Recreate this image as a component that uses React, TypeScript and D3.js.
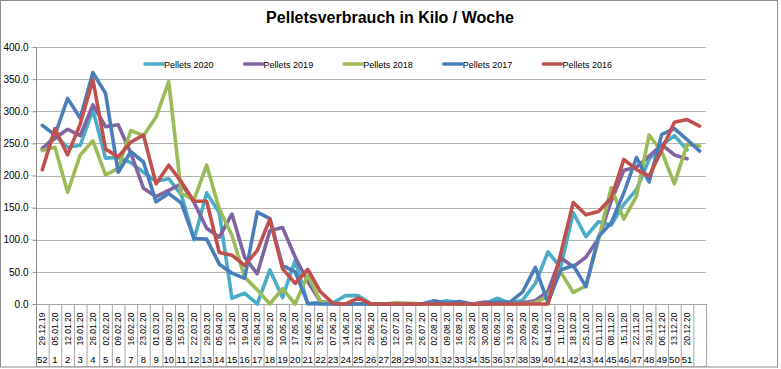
import React, { useEffect, useRef } from "react";
import * as d3 from "d3";

// x-Achse: Datum (Wochenanfang) und KW, letzte Spalte ohne Beschriftung
const dates = [
  "29.12.19", "05.01.20", "12.01.20", "19.01.20", "26.01.20", "02.02.20", "09.02.20", "16.02.20",
  "23.02.20", "01.03.20", "08.03.20", "15.03.20", "22.03.20", "29.03.20", "05.04.20", "12.04.20",
  "19.04.20", "26.04.20", "03.05.20", "10.05.20", "17.05.20", "24.05.20", "31.05.20", "07.06.20",
  "14.06.20", "21.06.20", "28.06.20", "05.07.20", "12.07.20", "19.07.20", "26.07.20", "02.08.20",
  "09.08.20", "16.08.20", "23.08.20", "30.08.20", "06.09.20", "13.09.20", "20.09.20", "27.09.20",
  "04.10.20", "11.10.20", "18.10.20", "25.10.20", "01.11.20", "08.11.20", "15.11.20", "22.11.20",
  "29.11.20", "06.12.20", "13.12.20", "20.12.20", "",
];
const weeks = [
  "52", "1", "2", "3", "4", "5", "6", "7", "8", "9", "10", "11", "12", "13", "14", "15", "16", "17",
  "18", "19", "20", "21", "22", "23", "24", "25", "26", "27", "28", "29", "30", "31", "32", "33", "34",
  "35", "36", "37", "38", "39", "40", "41", "42", "43", "44", "45", "46", "47", "48", "49", "50", "51", "",
];

const pellets2020 = [
  240, 262, 244, 247, 302, 227, 228, 220, 205, 191,
  195, 170, 100, 173, 142, 9, 17, 0, 53, 10,
  68, 0, 3, 2, 13, 13, 0, 0, 0, 0,
  0, 1, 5, 2, 0, 0, 9, 1, 6, 32,
  81, 57, 142, 105, 128, 123, 155, 178, 225, 248,
  262, 240, null,
];
const pellets2019 = [
  242, 258, 272, 262, 310, 276, 279, 235, 180, 167,
  177, 187, 158, 118, 104, 140, 73, 47, 114, 119,
  73, 35, 4, 0, 0, 0, 0, 0, 0, 0,
  0, 0, 0, 0, 0, 3, 1, 0, 2, 5,
  20, 72, 58, 73, 102, 160, 208, 213, 230, 248,
  232, 226, null,
];
const pellets2018 = [
  239, 244, 174, 232, 254, 201, 211, 270, 262, 291,
  346, 172, 162, 216, 148, 107, 42, 22, 0, 24,
  0, 45, 4, 0, 0, 0, 0, 0, 2, 1,
  0, 0, 0, 0, 0, 0, 0, 0, 0, 2,
  12, 50, 18, 28, 100, 181, 132, 168, 263, 237,
  187, 248, 246,
];
const pellets2017 = [
  278, 263, 320, 289, 360, 328, 205, 237, 221, 159,
  172, 157, 102, 101, 62, 48, 40, 143, 133, 60,
  50, 1, 0, 0, 0, 0, 0, 0, 0, 0,
  0, 5, 1, 4, 0, 0, 3, 3, 19, 57,
  2, 53, 60, 27, 105, 126, 173, 228, 190, 264,
  273, 256, 238,
];
const pellets2016 = [
  209, 273, 232, 280, 349, 241, 229, 252, 263, 187,
  216, 190, 160, 160, 80, 76, 60, 83, 132, 55,
  32, 54, 19, 1, 0, 9, 0, 0, 0, 0,
  0, 0, 0, 0, 0, 0, 0, 0, 0, 0,
  0, 78, 158, 139, 144, 165, 225, 209, 199, 240,
  283, 287, 277,
];

const seriesNames = ["Pellets 2020", "Pellets 2019", "Pellets 2018", "Pellets 2017", "Pellets 2016"];
const seriesValues = [pellets2020, pellets2019, pellets2018, pellets2017, pellets2016];
const seriesColors = ["#4BACC6", "#8064A2", "#9BBB59", "#4A7EBB", "#C0504D"];
const yTicks = [0, 50, 100, 150, 200, 250, 300, 350, 400];

const W = 781;
const H = 369;
const FONT = "'Liberation Sans', Arial, sans-serif";

export default function App() {
  const ref = useRef<SVGSVGElement>(null);

  useEffect(() => {
    const svg = d3.select(ref.current);
    svg.selectAll("*").remove();

    const left = 36, right = 706, top = 47, bottom = 304, tableBottom = 367;

    const x = d3.scaleBand<number>().domain(d3.range(dates.length)).range([left, right]).padding(0);
    const y = d3.scaleLinear().domain([0, 400]).range([bottom, top]);

    // Rahmen
    svg.append("rect")
      .attr("x", 0.5).attr("y", 0.5)
      .attr("width", 777).attr("height", 366.5)
      .attr("fill", "#fff").attr("stroke", "#8c8c8c");

    // Titel
    svg.append("text")
      .attr("x", 390).attr("y", 23)
      .attr("text-anchor", "middle")
      .style("font-family", FONT).style("font-weight", "bold").style("font-size", "16px")
      .text("Pelletsverbrauch in Kilo / Woche");

    // Gitterlinien
    svg.append("g").selectAll("line").data(yTicks.filter(t => t > 0)).enter().append("line")
      .attr("x1", left).attr("x2", right)
      .attr("y1", d => Math.round(y(d)) + 0.5).attr("y2", d => Math.round(y(d)) + 0.5)
      .attr("stroke", "#b3b3b3");

    // y-Achse
    const yAxis = svg.append("g").attr("transform", `translate(${left + 0.5},0)`)
      .call(d3.axisLeft(y).tickValues(yTicks).tickFormat(d3.format(".1f")).tickSize(4).tickPadding(4));
    yAxis.select(".domain").remove();
    yAxis.selectAll("line").attr("stroke", "#8c8c8c");
    yAxis.selectAll("text").style("font-family", FONT).style("font-size", "10px").attr("fill", "#000");
    svg.append("line")
      .attr("x1", left + 0.5).attr("x2", left + 0.5).attr("y1", top).attr("y2", tableBottom)
      .attr("stroke", "#8c8c8c");

    // Kategorie-Tabelle
    const table = svg.append("g");
    table.append("line")
      .attr("x1", left).attr("x2", right).attr("y1", bottom + 0.5).attr("y2", bottom + 0.5)
      .attr("stroke", "#a6a6a6");
    table.append("line")
      .attr("x1", left).attr("x2", right).attr("y1", tableBottom - 0.5).attr("y2", tableBottom - 0.5)
      .attr("stroke", "#a6a6a6");
    table.selectAll(".sep").data(d3.range(1, dates.length + 1)).enter().append("line")
      .attr("x1", i => (x(i) ?? right) + 0.5).attr("x2", i => (x(i) ?? right) + 0.5)
      .attr("y1", bottom).attr("y2", tableBottom)
      .attr("stroke", "#a6a6a6");

    const bw = x.bandwidth();
    table.selectAll(".date").data(dates).enter().append("text")
      .attr("transform", (d, i) => `translate(${(x(i) ?? 0) + bw / 2 + 3},329) rotate(-90)`)
      .attr("text-anchor", "middle")
      .style("font-family", FONT).style("font-size", "8.5px")
      .text(d => d);
    table.selectAll(".week").data(weeks).enter().append("text")
      .attr("x", (d, i) => (x(i) ?? 0) + bw / 2)
      .attr("y", 363)
      .attr("text-anchor", "middle")
      .style("font-family", FONT).style("font-size", "9.5px")
      .text(d => d);

    // Linien
    const line = d3.line<number | null>()
      .defined(d => d !== null)
      .x((d, i) => (x(i) ?? 0) + bw / 2)
      .y(d => y(d as number));

    svg.append("g").selectAll("path").data(seriesValues).enter().append("path")
      .attr("d", d => line(d))
      .attr("fill", "none")
      .attr("stroke", (d, i) => seriesColors[i])
      .attr("stroke-width", 3.6)
      .attr("stroke-linejoin", "round")
      .attr("stroke-linecap", "round");

    // Legende
    const legend = svg.append("g").selectAll("g").data(seriesNames).enter().append("g")
      .attr("transform", (d, i) => `translate(${145 + i * 99.6},64)`);
    legend.append("line")
      .attr("x1", 0).attr("x2", 18).attr("y1", 0).attr("y2", 0)
      .attr("stroke", (d, i) => seriesColors[i])
      .attr("stroke-width", 3.5)
      .attr("stroke-linecap", "round");
    legend.append("text")
      .attr("x", 19).attr("y", 3.5)
      .style("font-family", FONT).style("font-size", "9px")
      .text(d => d);
  }, []);

  return (
    <svg
      ref={ref}
      width={W}
      height={H}
      style={{ position: "absolute", left: 0, top: 0, background: "#fff" }}
    />
  );
}
